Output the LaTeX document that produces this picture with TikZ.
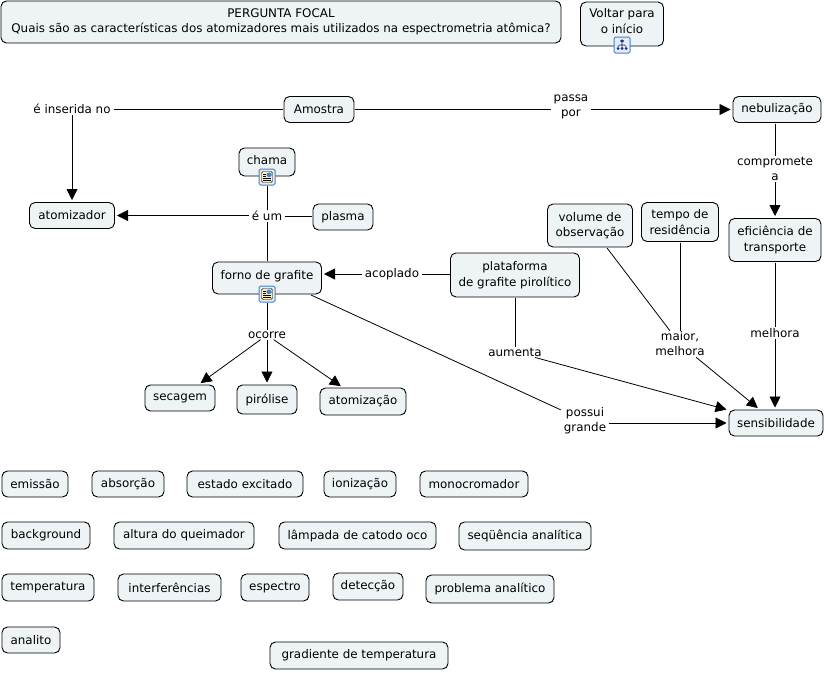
\documentclass[tikz,border=0pt]{standalone}
\usepackage{fontspec}
\setmainfont{DejaVu Sans}
\usetikzlibrary{
    arrows.meta,
    positioning
}
\definecolor{conceptfill}{RGB}{238,244,246}
\definecolor{iconblue}{RGB}{70,130,200}
\definecolor{iconback}{RGB}{226,236,250}
\definecolor{iconpage}{RGB}{250,240,190}
\definecolor{icondark}{RGB}{30,50,110}

\begin{document}
\begin{tikzpicture}[
    x=1pt, y=-1pt,
    concept/.style={draw, line width=0.9pt, rounded corners=5.5pt, fill=conceptfill, align=center, font=\fontsize{11.9}{15.5}\selectfont, inner sep=0pt, outer sep=1pt, minimum height=26pt},
    linker/.style={fill=white, align=center, font=\fontsize{11.9}{15}\selectfont, inner xsep=3pt, inner ysep=1pt},
    arrow/.style={-{Triangle[length=11pt,width=11pt]}, line width=0.8pt, shorten >=1.5pt},
    link/.style={line width=0.8pt},
    docicon/.style={draw=iconblue, line width=1pt, rounded corners=1.5pt, fill=iconback, minimum width=16pt, minimum height=16pt, inner sep=0pt,
        path picture={
            \fill[iconpage] (-5.5pt,-5.5pt) rectangle (5.5pt,5.5pt);
            \draw[black, line width=0.4pt] (-5.5pt,-5.5pt) rectangle (5.5pt,5.5pt);
            \fill[iconblue] (-0.5pt,0pt) rectangle (4.5pt,4.5pt);
            \draw[black, line width=0.6pt] (-4pt,3pt) -- (-1.5pt,3pt) (-4pt,1pt) -- (-1.5pt,1pt) (-4pt,-1.5pt) -- (4pt,-1.5pt) (-4pt,-3.5pt) -- (4pt,-3.5pt);
        }},
    mapicon/.style={draw=iconblue, line width=1pt, rounded corners=1.5pt, fill=iconback, minimum width=16pt, minimum height=16pt, inner sep=0pt,
        path picture={
            \draw[icondark, line width=0.6pt] (0pt,2pt) -- (0pt,-3pt) (-4pt,-2pt) -- (-4pt,0pt) -- (4pt,0pt) -- (4pt,-2pt);
            \fill[icondark] (-2pt,5.5pt) rectangle (2pt,2.5pt) (-5.5pt,-2pt) rectangle (-2.5pt,-5pt) (-1.5pt,-2pt) rectangle (1.5pt,-5pt) (2.5pt,-2pt) rectangle (5.5pt,-5pt);
        }}
]
    % Page
    \useasboundingbox (0,0) rectangle (824,672);

    % Focal question
    \node[concept, minimum width=560pt, minimum height=42pt] (focal) at (281,22) {PERGUNTA FOCAL\\Quais são as características dos atomizadores mais utilizados na espectrometria atômica?};
    \node[concept, minimum width=83pt, minimum height=44pt, text depth=6pt] (voltar) at (622,24) {Voltar para\\o início};

    % Upper concepts
    \node[concept, minimum width=70pt] (amostra) at (319,109.5) {Amostra};
    \node[concept, minimum width=88pt] (nebulizacao) at (777,109.5) {nebulização};
    \node[concept, minimum width=85pt] (atomizador) at (72,215.5) {atomizador};
    \node[concept, minimum width=56pt, minimum height=28pt, text depth=4pt] (chama) at (267,162) {chama};
    \node[concept, minimum width=60pt] (plasma) at (343,217) {plasma};
    \node[concept, minimum width=109pt, minimum height=32pt, text depth=7pt] (forno) at (267,278) {forno de grafite};
    \node[concept, minimum width=129pt, minimum height=44pt] (plataforma) at (515,275) {plataforma\\de grafite pirolítico};
    \node[concept, minimum width=85pt, minimum height=43pt] (volume) at (590,225.5) {volume de\\observação};
    \node[concept, minimum width=77pt, minimum height=39pt] (tempo) at (680,222) {tempo de\\residência};
    \node[concept, minimum width=92pt, minimum height=43pt] (eficiencia) at (775,240) {eficiência de\\transporte};
    \node[concept, minimum width=70pt] (secagem) at (180,398) {secagem};
    \node[concept, minimum width=60pt, minimum height=29pt] (pirolise) at (267,399.5) {pirólise};
    \node[concept, minimum width=86pt, minimum height=27pt] (atomizacao) at (363,401.5) {atomização};
    \node[concept, minimum width=94pt] (sensibilidade) at (776,423) {sensibilidade};

    % Icons
    \node[mapicon] (voltaricon) at (622,45) {};
    \node[docicon] (chamaicon) at (267,177) {};
    \node[docicon] (fornoicon) at (267,294) {};

    % Linking phrases
    \node[linker] (inserida) at (72,109) {é inserida no};
    \node[linker] (passa) at (571,107) {passa\\por};
    \node[linker] (compromete) at (775,169) {compromete\\a};
    \node[linker] (eum) at (267,216) {é um};
    \node[linker] (acoplado) at (392,274) {acoplado};
    \node[linker] (ocorre) at (267,335) {ocorre};
    \node[linker] (aumenta) at (515,352) {aumenta};
    \node[linker] (maior) at (680,344) {maior,\\melhora};
    \node[linker] (melhora) at (775,333) {melhora};
    \node[linker] (possui) at (585,421) {possui\\grande};
    \coordinate (fornoout) at (311,295);

    % Connectors
    \draw[link] (amostra) -- (amostra -| inserida.east);
    \draw[arrow] (inserida) -- (atomizador);
    \draw[link] (amostra) -- (amostra -| passa.west);
    \draw[arrow] (passa.east |- nebulizacao) -- (nebulizacao);
    \draw[link] (nebulizacao.south -| compromete) -- (compromete);
    \draw[arrow] (compromete) -- (eficiencia);
    \draw[link] (eficiencia) -- (melhora);
    \draw[arrow] (melhora) -- (melhora |- sensibilidade.north);
    \draw[link] (chamaicon) -- (eum);
    \draw[link] (eum.east) -- (plasma.west |- eum.east);
    \draw[link] (forno) -- (eum);
    \draw[arrow] (eum.west |- atomizador) -- (atomizador);
    \draw[link] (plataforma.west |- acoplado) -- (acoplado);
    \draw[arrow] (acoplado) -- (acoplado -| forno.east);
    \draw[link] (fornoicon) -- (ocorre);
    \draw[arrow] (ocorre) -- (secagem);
    \draw[arrow] (ocorre) -- (pirolise);
    \draw[arrow] (ocorre) -- (atomizacao);
    \draw[link] (plataforma) -- (aumenta);
    \draw[arrow] (aumenta) -- (sensibilidade);
    \draw[link] (volume) -- (maior);
    \draw[link] (tempo) -- (maior);
    \draw[arrow] (maior) -- (sensibilidade);
    \draw[link] (fornoout) -- (possui);
    \draw[arrow] (possui.east |- sensibilidade) -- (sensibilidade);

    % Loose concepts, first row
    \node[concept, minimum width=66pt] (emissao) at (35,484) {emissão};
    \node[concept, minimum width=72pt] (absorcao) at (128,484) {absorção};
    \node[concept, minimum width=116pt] (excitado) at (245,484) {estado excitado};
    \node[concept, minimum width=72pt] (ionizacao) at (360,484) {ionização};
    \node[concept, minimum width=108pt] (monocromador) at (474,484) {monocromador};

    % Second row
    \node[concept, minimum width=88pt, minimum height=27pt] (background) at (46,535.5) {background};
    \node[concept, minimum width=140pt, minimum height=27pt] (altura) at (184,535.5) {altura do queimador};
    \node[concept, minimum width=157pt, minimum height=27pt] (lampada) at (357.5,535.5) {lâmpada de catodo oco};
    \node[concept, minimum width=132pt, minimum height=28pt] (sequencia) at (525,536) {seqüência analítica};

    % Third row
    \node[concept, minimum width=92pt, minimum height=27pt] (temperatura) at (48,587.5) {temperatura};
    \node[concept, minimum width=103pt, minimum height=27pt] (interferencias) at (169.5,587.5) {interferências};
    \node[concept, minimum width=68pt, minimum height=27pt] (espectro) at (275,587.5) {espectro};
    \node[concept, minimum width=70pt, minimum height=27pt] (deteccao) at (368,586.5) {detecção};
    \node[concept, minimum width=128pt, minimum height=28pt] (problema) at (490,589) {problema analítico};

    % Last row
    \node[concept, minimum width=58pt] (analito) at (31,640) {analito};
    \node[concept, minimum width=178pt, minimum height=27pt] (gradiente) at (359,655.5) {gradiente de temperatura};
\end{tikzpicture}
\end{document}
